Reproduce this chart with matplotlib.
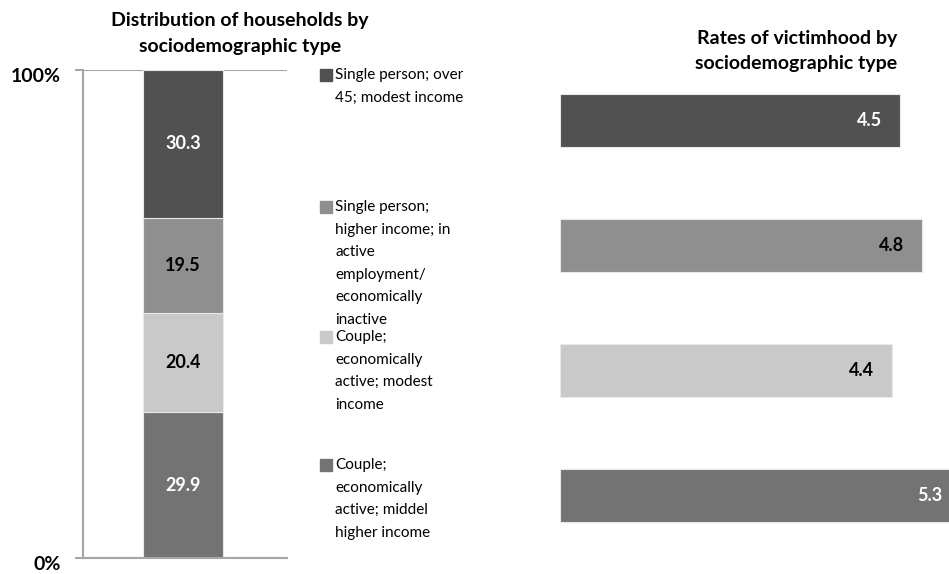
import matplotlib.pyplot as plt
from matplotlib.patches import Rectangle
from matplotlib.transforms import ScaledTranslation

W, H = 949, 574

# stacked from the bottom up
household_types = [
    "Couple;\neconomically\nactive; middel\nhigher income",
    "Couple;\neconomically\nactive; modest\nincome",
    "Single person;\nhigher income; in\nactive\nemployment/\neconomically\ninactive",
    "Single person; over\n45; modest income",
]
household_share = [29.9, 20.4, 19.5, 30.3]
victim_rate = [5.3, 4.4, 4.8, 4.5]

shades = ["#737373", "#c9c9c9", "#8f8f8f", "#515151"]
value_colors = ["white", "black", "black", "white"]

plt.rcParams["font.family"] = ["Lato", "DejaVu Sans"]
fig = plt.figure(figsize=(W / 100, H / 100), dpi=100)


def px_box(x0, y0, x1, y1):
    """pixel box (top-left origin) -> [left, bottom, width, height] fractions"""
    return [x0 / W, 1 - y1 / H, (x1 - x0) / W, (y1 - y0) / H]


# --- left: share of households ---
ax = fig.add_axes(px_box(83, 70, 287, 558))
bottom = 0
for share, shade, tc in zip(household_share, shades, value_colors):
    ax.bar(0, share, width=0.8, bottom=bottom, color=shade, edgecolor="#e8e8e8", linewidth=0.8)
    ax.text(0, bottom + share / 2, f"{share:.1f}", ha="center", va="center",
            color=tc, fontsize=13, fontweight="bold")
    bottom += share
ax.set_xlim(-1, 1.04)
ax.set_ylim(0, sum(household_share))
ax.set_xticks([])
ax.set_yticks([0, 100])
ax.set_yticklabels(["0%", "100%"], fontsize=14, fontweight="bold")
ax.tick_params(axis="y", length=6, width=1.5, color="#a6a6a6", pad=10)
shift = ScaledTranslation(0, -5 / 100, fig.dpi_scale_trans)
for lbl in ax.get_yticklabels():
    lbl.set_transform(lbl.get_transform() + shift)
ax.yaxis.grid(True, color="#a6a6a6", linewidth=1.5)
ax.set_axisbelow(True)
for side in ["top", "right"]:
    ax.spines[side].set_visible(False)
for side in ["left", "bottom"]:
    ax.spines[side].set_color("#a6a6a6")
    ax.spines[side].set_linewidth(1.5)

fig.text(240 / W, 1 - 33.5 / H, "Distribution of households by\nsociodemographic type",
         ha="center", va="center", fontsize=14, fontweight="bold", linespacing=1.6)

# --- legend ---
first_line_y = [75, 207, 337, 465]
for label, shade, y0 in zip(household_types[::-1], shades[::-1], first_line_y):
    fig.add_artist(Rectangle((320 / W, 1 - (y0 + 6) / H), 12 / W, 12 / H,
                             transform=fig.transFigure, color=shade))
    for i, line in enumerate(label.split("\n")):
        fig.text(335 / W, 1 - (y0 + i * 22.6) / H, line, ha="left", va="center",
                 fontsize=11, color="black")

# --- right: victimhood rates ---
ax2 = fig.add_axes(px_box(560, 58, 960, 558))
pos = range(len(victim_rate))
ax2.barh(pos, victim_rate, height=0.42, color=shades, edgecolor="#e8e8e8", linewidth=0.8)
for p, rate, tc in zip(pos, victim_rate, value_colors):
    ax2.annotate(f"{rate:.1f}", (rate, p), xytext=(-18, 0), textcoords="offset pixels",
                 ha="right", va="center", color=tc, fontsize=13, fontweight="bold")
ax2.set_xlim(0, 5.3)
ax2.set_ylim(-0.5, 3.5)
ax2.axis("off")

fig.text(897 / W, 1 - 51 / H, "Rates of victimhood by\nsociodemographic type",
         ha="right", va="center", fontsize=14, fontweight="bold", linespacing=1.6)

fig.savefig("out.png", dpi=100)
